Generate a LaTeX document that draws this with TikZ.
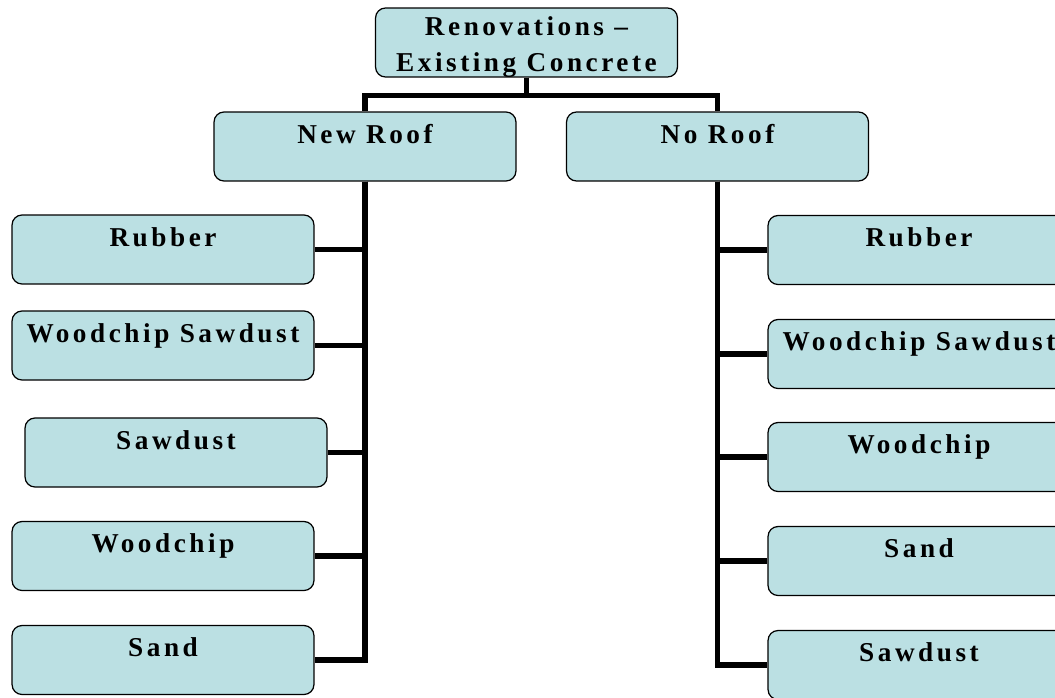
\documentclass[tikz,border=0pt]{standalone}
\usepackage{fontspec}
\setmainfont{Liberation Serif}[LetterSpace=13]
\definecolor{boxfill}{RGB}{187,224,227}

\begin{document}
\begin{tikzpicture}[
    x=0.02cm, y=-0.02cm,
    every node/.style={font=\fontsize{15.5}{20.5}\selectfont\bfseries},
    boxstyle/.style={rectangle, rounded corners=0.2cm, draw=black, line width=0.7pt,
                     fill=boxfill, minimum width=6.04cm, minimum height=1.38cm,
                     inner sep=0pt, text height=0.62cm, text depth=0.76cm, align=center},
    topbox/.style={boxstyle, text height=1.28cm, text depth=0.1cm},
    link/.style={line width=3.2pt}
]
  \useasboundingbox (0,0) rectangle (1055,697);
  \clip (0,0) rectangle (1055,697);

  % top level
  \node[topbox] (reno) at (526.5, 42.5) {Renovations --\\Existing Concrete};

  % second level
  \node[boxstyle] (newroof) at (365, 146.5) {New Roof};
  \node[boxstyle] (noroof)  at (717.5, 146.5) {No Roof};

  % New Roof column
  \node[boxstyle] (new-rubber)   at (163, 249.5) {Rubber};
  \node[boxstyle] (new-wdsaw)    at (163, 345.5) {Woodchip Sawdust};
  \node[boxstyle] (new-sawdust)  at (176, 452.5) {Sawdust};
  \node[boxstyle] (new-woodchip) at (163, 556)   {Woodchip};
  \node[boxstyle] (new-sand)     at (163, 660)   {Sand};

  % No Roof column
  \node[boxstyle] (no-rubber)   at (919, 250) {Rubber};
  \node[boxstyle] (no-wdsaw)    at (919, 354) {Woodchip Sawdust};
  \node[boxstyle] (no-woodchip) at (919, 457) {Woodchip};
  \node[boxstyle] (no-sand)     at (919, 561) {Sand};
  \node[boxstyle] (no-sawdust)  at (919, 665) {Sawdust};

  % connectors
  \draw[link] (reno.south) -- ++(0,18) -| (newroof.north);
  \draw[link] (reno.south) -- ++(0,18) -| (noroof.north);

  \foreach \kid in {new-rubber, new-wdsaw, new-sawdust, new-woodchip, new-sand}
    \draw[link] (newroof.south) |- (\kid.east);
  \foreach \kid in {no-rubber, no-wdsaw, no-woodchip, no-sand, no-sawdust}
    \draw[link] (noroof.south) |- (\kid.west);

\end{tikzpicture}
\end{document}
